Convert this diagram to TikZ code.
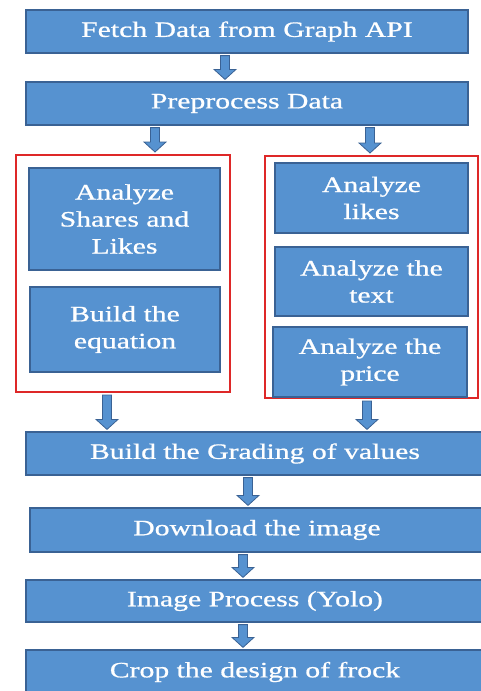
\documentclass[tikz,border=0pt]{standalone}
\usepackage{fontspec}
\newfontfamily\boxfont{Liberation Serif}[FakeStretch=1.35, FakeBold=0.8]
\usetikzlibrary{calc}
\definecolor{boxblue}{RGB}{86,146,208}
\definecolor{boxedge}{RGB}{58,98,148}
\definecolor{groupred}{RGB}{222,40,40}

\begin{document}
\begin{tikzpicture}[
    x=1pt, y=-1pt,
    font=\boxfont\fontsize{22}{27}\selectfont,
    procbox/.style={rectangle, draw=boxedge, line width=1.2pt, fill=boxblue, text=white, align=center, inner sep=0pt},
    groupbox/.style={rectangle, draw=groupred, line width=2pt, inner sep=0pt},
    flow/.style={fill=boxblue, draw=boxedge, line width=0.8pt, to path={let \p1=(\tikztostart), \p2=(\tikztotarget) in
        (\x1-4.5pt,\y1-2pt) -- (\x1+4.5pt,\y1-2pt) -- (\x1+4.5pt,\y2+12pt) -- (\x1+11pt,\y2+12pt) -- (\x1,\y2+2pt)
        -- (\x1-11pt,\y2+12pt) -- (\x1-4.5pt,\y2+12pt) -- cycle}}
  ]
  \useasboundingbox (0,0) rectangle (480,691);

  % top steps
  \node[procbox, minimum width=442pt, minimum height=43pt] (fetch) at (247,31.5) {Fetch Data from Graph API};
  \node[procbox, minimum width=442pt, minimum height=43pt] (prep) at (247,103.5) {Preprocess Data};

  % groups
  \node[groupbox, minimum width=214pt, minimum height=237pt] (leftgrp) at (123,273.5) {};
  \node[groupbox, minimum width=213pt, minimum height=242pt] (rightgrp) at (371.5,277) {};

  % left group
  \node[procbox, minimum width=191pt, minimum height=102pt] (shares) at (124.5,219) {Analyze\\Shares and\\Likes};
  \node[procbox, minimum width=190pt, minimum height=85pt] (equation) at (125,329.5) {Build the\\equation};

  % right group
  \node[procbox, minimum width=193pt, minimum height=70pt] (likes) at (371.5,198) {Analyze\\likes};
  \node[procbox, minimum width=193pt, minimum height=69pt] (text) at (371.5,281.5) {Analyze the\\text};
  \node[procbox, minimum width=194pt, minimum height=70pt] (price) at (370,362) {Analyze the\\price};

  % bottom steps
  \node[procbox, minimum width=458pt, minimum height=43pt] (grading) at (255,453.5) {Build the Grading of values};
  \node[procbox, minimum width=454pt, minimum height=44pt] (download) at (257,530) {Download the image};
  \node[procbox, minimum width=458pt, minimum height=42pt] (yolo) at (255,601) {Image Process (Yolo)};
  \node[procbox, minimum width=458pt, minimum height=44pt] (crop) at (255,672) {Crop the design of frock};

  % arrows
  \draw[flow] (225,0 |- fetch.south) to (225,0 |- prep.north);
  \draw[flow] (155,0 |- prep.south) to (155,0 |- leftgrp.north);
  \draw[flow] (370,0 |- prep.south) to (370,0 |- rightgrp.north);
  \draw[flow] (107,0 |- leftgrp.south) to (107,0 |- grading.north);
  \draw[flow] (367,0 |- rightgrp.south) to (367,0 |- grading.north);
  \draw[flow] (248,0 |- grading.south) to (248,0 |- download.north);
  \draw[flow] (243,0 |- download.south) to (243,0 |- yolo.north);
  \draw[flow] (243,0 |- yolo.south) to (243,0 |- crop.north);

\end{tikzpicture}
\end{document}
